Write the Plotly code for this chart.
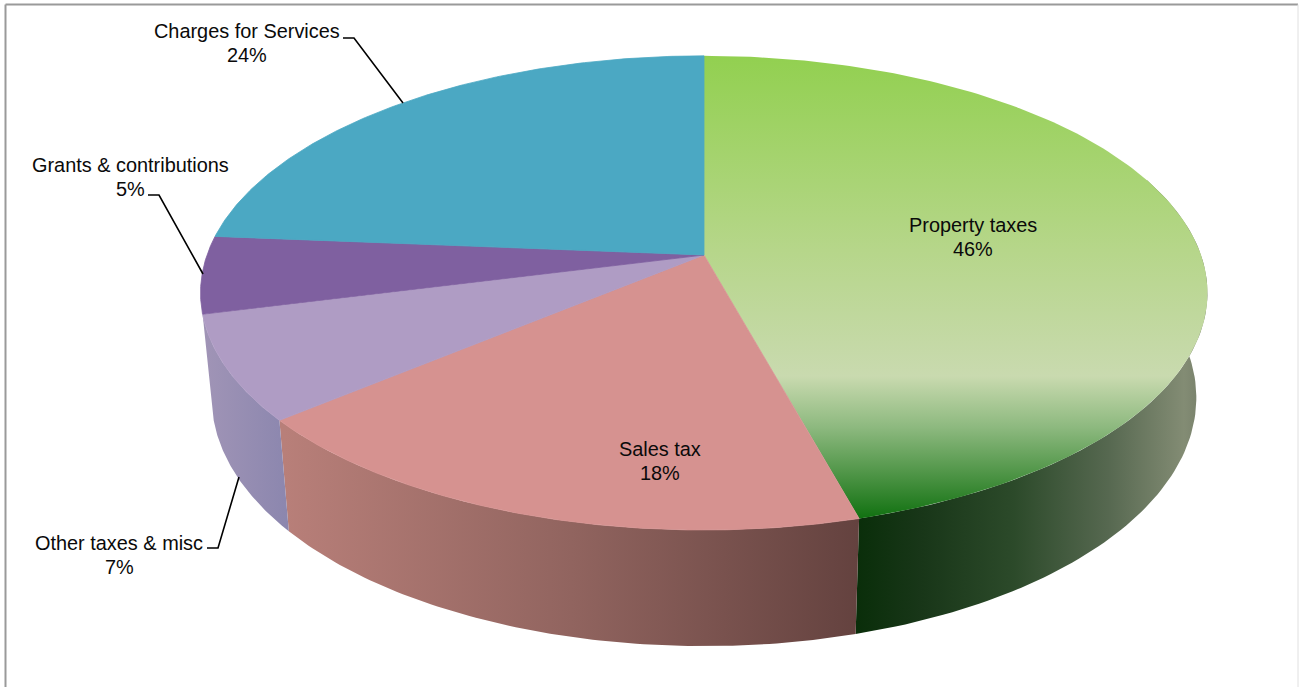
import numpy as np
import plotly.graph_objects as go

# Data
categories = ["Property taxes", "Sales tax", "Other taxes & misc", "Grants & contributions", "Charges for Services"]
shares = [45.75, 18.15, 7.1, 5.3, 23.7]
share_labels = ["46%", "18%", "7%", "5%", "24%"]
top_colors = [None, "#D69290", "#AF9CC4", "#7F60A0", "#4BA8C3"]

# Label placement (pixels of the page), leaders and the view of the disc
label_xy = [(973, 225), (660, 449), (119, 543), (130, 165), (247, 31)]
leaders = [None, None, [(207, 548), (218, 548), (239, 477)],
           [(148, 195), (159, 195), (203, 274)], [(343, 38), (354, 38), (403, 103)]]
W, H = 1299, 687
TOP = dict(cx=704.0, cy=255.0, a=497.0, b=231.0)
BOT = dict(cx=704.0, cy=358.0, a=486.0, b=242.0)
K = 0.16

prop_top_scale = [[0.0, "#92D050"], [0.42, "#B6D68A"], [0.69, "#C9DAAF"], [0.80, "#8DB97F"],
                  [0.90, "#4F9547"], [1.0, "#0F700F"]]
wall_scales = {
    0: ([[0.0, "#0A2E0A"], [0.18, "#183618"], [0.45, "#2C4A2A"], [0.72, "#566850"], [0.94, "#838C74"], [1.0, "#757E69"]], 858, 1205),
    1: ([[0.0, "#B87F79"], [0.5, "#91645F"], [1.0, "#64423F"]], 285, 858),
    2: ([[0.0, "#A094B6"], [1.0, "#8B86AE"]], 205, 290),
}


def rim(theta_deg, view):
    t = np.radians(theta_deg)
    u, v = np.sin(t), np.cos(t)
    w = 1 + K * v
    return view["cx"] + view["a"] * u / w, view["cy"] - view["b"] * v / w


edges = np.concatenate([[0.0], np.cumsum(shares)]) / np.sum(shares) * 360.0

fig = go.Figure()

# Side wall of the visible slices
for i, (scale, x0, x1) in wall_scales.items():
    lo, hi = max(edges[i], 70.0), edges[i + 1]
    th = np.linspace(lo, hi, 90)
    xt, yt = rim(th, TOP)
    xb, yb = rim(th[::-1], BOT)
    fig.add_trace(go.Scatter(
        x=np.r_[xt, xb, xt[0]], y=np.r_[yt, yb, yt[0]], mode="lines", fill="toself",
        line=dict(width=0), hoverinfo="skip", showlegend=False,
        fillgradient=dict(type="horizontal", colorscale=scale, start=x0, stop=x1),
    ))

# Top faces
for i, name in enumerate(categories):
    th = np.linspace(edges[i], edges[i + 1], 160)
    xt, yt = rim(th, TOP)
    x = np.r_[TOP["cx"], xt, TOP["cx"]]
    y = np.r_[TOP["cy"], yt, TOP["cy"]]
    if top_colors[i] is None:
        fig.add_trace(go.Scatter(
            x=x, y=y, mode="lines", fill="toself", line=dict(width=0), name=name,
            hoverinfo="name", showlegend=False,
            fillgradient=dict(type="vertical", colorscale=prop_top_scale, start=56, stop=520),
        ))
    else:
        fig.add_trace(go.Scatter(
            x=x, y=y, mode="lines", fill="toself", fillcolor=top_colors[i],
            line=dict(width=0.8, color=top_colors[i]), name=name,
            hoverinfo="name", showlegend=False,
        ))

# Labels and leader lines
for name, pct, (lx, ly), path in zip(categories, share_labels, label_xy, leaders):
    for txt, yy in ((name, ly), (pct, ly + 23.5)):
        fig.add_annotation(x=lx, y=yy, text=txt, showarrow=False, xanchor="center", yanchor="middle",
                           font=dict(family="Liberation Sans, Arial, sans-serif", size=19.9, color="#0A0A0A"))
    if path:
        fig.add_trace(go.Scatter(x=[p[0] for p in path], y=[p[1] for p in path], mode="lines",
                                 line=dict(color="#000000", width=1.6), hoverinfo="skip", showlegend=False))

frame = [((5.5, 4.5), (5.5, H + 2), "#9A9A9A", 2), ((5.5, 4.5), (1298, 4.5), "#9A9A9A", 2),
         ((1298, 4.5), (1298, H + 2), "#E0E0E0", 1)]
for (a, b, c, lw) in frame:
    fig.add_shape(type="line", x0=a[0], y0=a[1], x1=b[0], y1=b[1], line=dict(color=c, width=lw), layer="below")

fig.update_xaxes(range=[0, W], visible=False, fixedrange=True)
fig.update_yaxes(range=[H, 0], visible=False, fixedrange=True)
fig.update_layout(width=W, height=H, margin=dict(l=0, r=0, t=0, b=0), paper_bgcolor="white",
                  plot_bgcolor="white", showlegend=False)
fig.write_html("out.html", config={"displayModeBar": False},
               post_script="document.body.style.margin='0';document.body.style.overflow='hidden';")
